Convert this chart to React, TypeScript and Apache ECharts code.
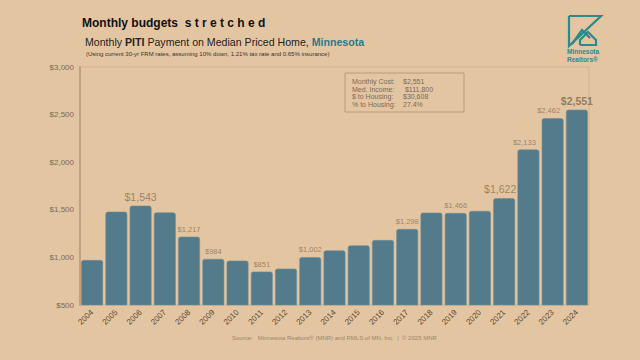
import React, { useEffect, useRef } from "react";
import * as echarts from "echarts";

const years = ["2004","2005","2006","2007","2008","2009","2010","2011","2012","2013","2014","2015","2016","2017","2018","2019","2020","2021","2022","2023","2024"];
const payments = [972, 1480, 1543, 1472, 1217, 984, 966, 851, 882, 1002, 1073, 1126, 1182, 1298, 1470, 1466, 1488, 1622, 2133, 2462, 2551];
const smallLabelYears = ["2008", "2009", "2011", "2013", "2017", "2019", "2022", "2023"];
const bigLabelYears = ["2006", "2021"];
const boldLabelYears = ["2024"];
const leftShiftedLabelYears = ["2021", "2022", "2023"];
const yTicks = [500, 1000, 1500, 2000, 2500, 3000];
const infoLines = [
  ["Monthly Cost:", "$2,551"],
  ["Med. Income:", " $111,800"],
  ["$ to Housing:", "$30,608"],
  ["% to Housing:", "27.4%"],
];

const BG = "#e4c5a1";
const BAR = "#537b8b";
const TEAL = "#2a8a8c";

const fmt = (v: number) => "$" + v.toLocaleString("en-US");

export default function App() {
  const ref = useRef<HTMLDivElement>(null);
  useEffect(() => {
    if (!ref.current) return;
    const chart = echarts.init(ref.current, null, { renderer: "svg" });
    const labelData = payments.map((v, i) => {
      const y = years[i];
      let label: any = { show: false };
      if (smallLabelYears.includes(y)) label = { show: true, fontSize: 7.5, color: "#8a7258", distance: 3 };
      if (bigLabelYears.includes(y)) label = { show: true, fontSize: 10.5, color: "#8a7258", distance: 3 };
      if (boldLabelYears.includes(y)) label = { show: true, fontSize: 10.5, fontWeight: "bold", color: "#7d6850", distance: 3 };
      if (leftShiftedLabelYears.includes(y)) label.offset = [-4, 0];
      return { value: [y, v], label };
    });
    const ff = "Liberation Sans, Arial, sans-serif";
    const infoGraphics: any[] = [];
    infoLines.forEach((l, i) => {
      infoGraphics.push({ type: "text", left: 352, top: 78 + i * 7.6, style: { text: l[0], fontSize: 7, fill: "#7b6a58", fontFamily: ff } });
      infoGraphics.push({ type: "text", left: 403, top: 78 + i * 7.6, style: { text: l[1], fontSize: 7, fill: "#7b6a58", fontFamily: ff } });
    });
    chart.setOption({
      animation: false,
      backgroundColor: BG,
      textStyle: { fontFamily: ff },
      grid: { left: 80, right: 51, top: 67, bottom: 55, show: true, borderColor: "#d4b38e", borderWidth: 1 },
      xAxis: {
        type: "category",
        data: years,
        axisLine: { show: false },
        axisTick: { show: false },
        axisLabel: { rotate: 45, fontSize: 8, color: "#5c4a38", margin: 6, interval: 0 },
        splitLine: { show: false },
      },
      yAxis: {
        type: "value",
        min: 500,
        max: 3000,
        interval: 500,
        axisLine: { show: true, lineStyle: { color: "#c4a07a", width: 2 } },
        axisTick: { show: false },
        splitLine: { show: false },
        axisLabel: { fontSize: 8, color: "#7b6a58", margin: 6, formatter: (v: number) => (yTicks.includes(v) ? fmt(v) : "") },
      },
      series: [
        {
          type: "bar",
          data: payments,
          barCategoryGap: "10%",
          z: 2,
          itemStyle: { color: BAR, borderColor: "#6d8e99", borderWidth: 0.6, borderRadius: [2, 2, 0, 0] },
        },
        {
          type: "scatter",
          data: labelData,
          symbolSize: 1,
          z: 10,
          silent: true,
          itemStyle: { color: "rgba(0,0,0,0)" },
          label: { show: false, position: "top", formatter: (p: any) => fmt(p.value[1]) },
        },
      ],
      graphic: [
        { type: "text", left: 82, top: 17, style: { text: "Monthly budgets  s t r e t c h e d", fontSize: 12, fontWeight: "bold", fill: "#111", fontFamily: ff } },
        {
          type: "text", left: 85, top: 36,
          style: {
            text: "Monthly {b|PITI} Payment on Median Priced Home, {m|Minnesota}",
            fontSize: 10.6, fill: "#222", fontFamily: ff,
            rich: { b: { fontSize: 10.6, fontWeight: "bold", fill: "#222", fontFamily: ff }, m: { fontSize: 10.6, fontWeight: "bold", fill: "#2a7b8c", fontFamily: ff } },
          },
        },
        { type: "text", left: 86, top: 51, style: { text: "(Using current 30-yr FRM rates, assuming 10% down, 1.21% tax rate and 0.65% insurance)", fontSize: 6, fill: "#333", fontFamily: ff } },
        { type: "rect", shape: { x: 345, y: 73, width: 119, height: 39 }, style: { fill: "none", stroke: "#b89a78", lineWidth: 1 } },
        ...infoGraphics,
        { type: "text", left: 232, top: 335, style: { text: "Source:   Minnesota Realtors® (MNR) and RMLS of MN, Inc.  |  © 2025 MNR", fontSize: 6, fill: "#9c8468", fontFamily: ff } },
        // logo
        { type: "polyline", shape: { points: [[569, 16], [601, 16], [569, 46], [569, 16]] }, style: { fill: "none", stroke: TEAL, lineWidth: 2.2 } },
        { type: "polyline", shape: { points: [[572, 44], [582, 30], [590, 38]] }, style: { fill: "none", stroke: TEAL, lineWidth: 2.2 } },
        { type: "polyline", shape: { points: [[580, 45], [580, 40], [588, 32], [596, 40], [596, 45], [580, 45]] }, style: { fill: "none", stroke: TEAL, lineWidth: 2.2 } },
        { type: "text", left: 567, top: 48, style: { text: "Minnesota\nRealtors®", fontSize: 6.5, fontWeight: "bold", lineHeight: 7.5, fill: TEAL, fontFamily: ff } },
      ],
    });
    return () => chart.dispose();
  }, []);
  return <div ref={ref} style={{ position: "absolute", left: 0, top: 0, width: 640, height: 360 }} />;
}
